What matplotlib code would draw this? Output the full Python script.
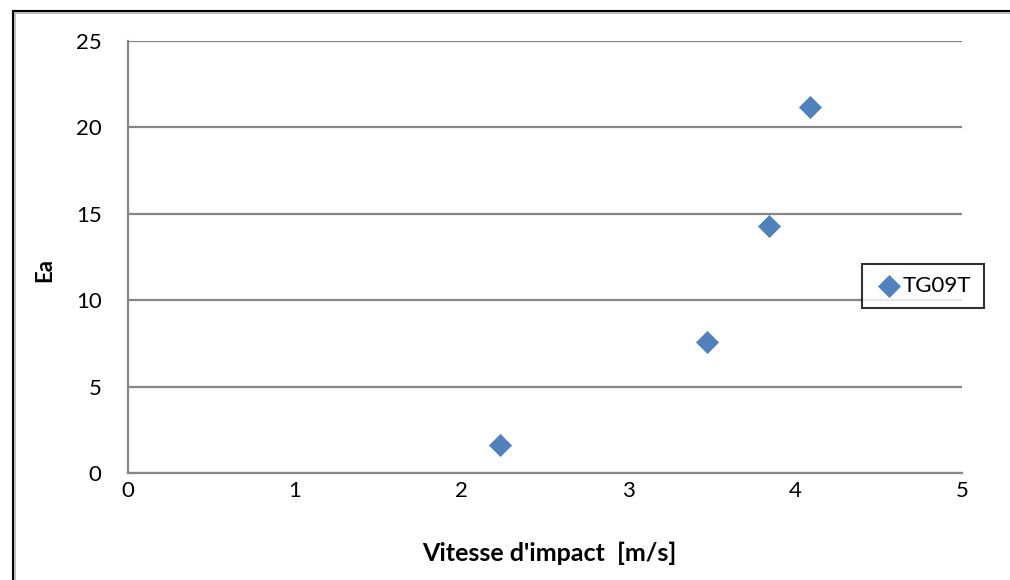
import matplotlib
matplotlib.use("Agg")
import matplotlib.pyplot as plt
from matplotlib.lines import Line2D

# Data
series_name = "TG09T"
vitesse = [2.23, 3.47, 3.84, 4.09]
ea = [1.6, 7.6, 14.3, 21.2]
x_ticks = [0, 1, 2, 3, 4, 5]
y_ticks = [0, 5, 10, 15, 20, 25]

plt.rcParams['font.family'] = ['Lato', 'DejaVu Sans']

W, H = 1010, 580
fig = plt.figure(figsize=(W / 100, H / 100), dpi=100)

def fx(px):
    return px / W

def fy(py):
    return 1 - py / H

# Outer chart border (cut at right/bottom in the reference)
fig.add_artist(Line2D([fx(12.5), fx(12.5)], [fy(10.5), -0.05], transform=fig.transFigure,
                      color='black', linewidth=1.5))
fig.add_artist(Line2D([fx(12.5), 1.05], [fy(10.5), fy(10.5)], transform=fig.transFigure,
                      color='black', linewidth=1.5))
fig.add_artist(Line2D([fx(15), fx(15)], [fy(13), -0.05], transform=fig.transFigure,
                      color='#b0b0b0', linewidth=1.2))
fig.add_artist(Line2D([fx(15), 1.05], [fy(13), fy(13)], transform=fig.transFigure,
                      color='#b0b0b0', linewidth=1.2))

left, right, top, bottom = 128, 962, 41, 473
ax = fig.add_axes([left / W, 1 - bottom / H, (right - left) / W, (bottom - top) / H])

ax.scatter(vitesse, ea, marker='D', s=13 ** 2 * 0.75, color='#4F81BD',
           edgecolors='#4F81BD', linewidths=0.5, zorder=3, label=series_name)

ax.set_xlim(0, 5)
ax.set_ylim(0, 25)
ax.set_xticks(x_ticks)
ax.set_yticks(y_ticks)
ax.set_xticklabels([str(t) for t in x_ticks])
ax.set_yticklabels([str(t) for t in y_ticks])
ax.tick_params(axis='both', length=0, labelsize=16, colors='black')
ax.tick_params(axis='x', pad=6)
ax.tick_params(axis='y', pad=19)

ax.grid(axis='y', color='#868686', linewidth=1.6, zorder=1)
for s in ['top', 'right']:
    ax.spines[s].set_visible(False)
for s in ['left', 'bottom']:
    ax.spines[s].set_color('#868686')
    ax.spines[s].set_linewidth(1.6)

ax.set_xlabel("Vitesse d'impact  [m/s]", fontsize=18, fontweight='bold')
ax.xaxis.set_label_coords((549 - left) / (right - left), (bottom - 553) / (bottom - top), transform=ax.transAxes)
ax.xaxis.label.set_va('center')
ax.set_ylabel("Ea", fontsize=16, fontweight='bold')
ax.yaxis.set_label_coords((45 - left) / (right - left), (bottom - 270) / (bottom - top), transform=ax.transAxes)
ax.yaxis.label.set_va('center')

leg = ax.legend(loc='center left', bbox_to_anchor=((862 - left) / (right - left), (473 - 286) / (bottom - top)),
                frameon=True, fancybox=False, fontsize=16, handletextpad=0.0,
                borderpad=0.55, handlelength=1.3, borderaxespad=0)
leg.get_frame().set_edgecolor('black')
leg.get_frame().set_linewidth(1.5)

fig.savefig("out.png", dpi=100)
